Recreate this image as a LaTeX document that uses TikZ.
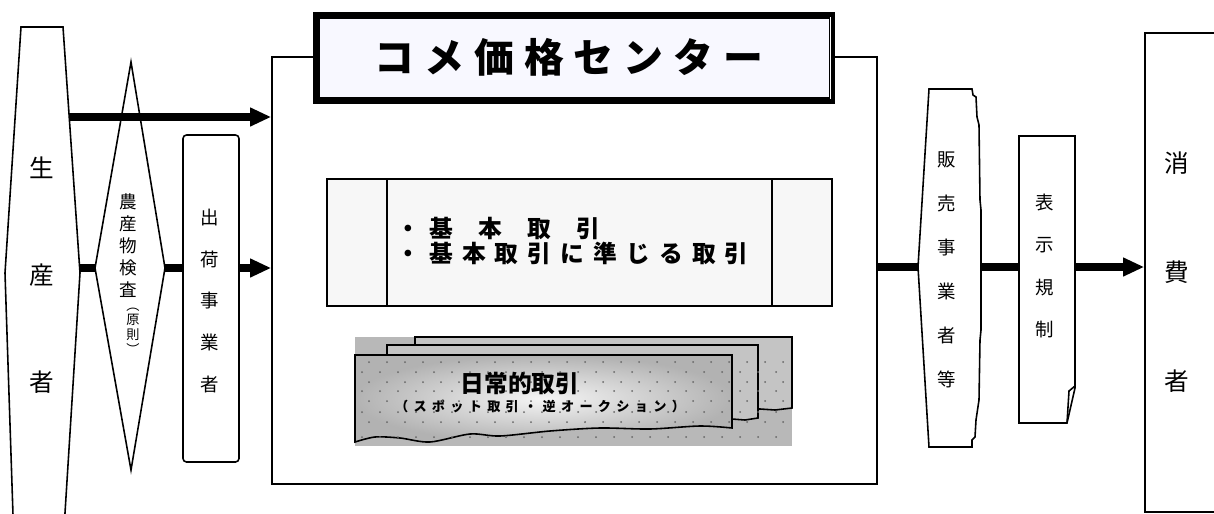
\documentclass[tikz,border=0pt]{standalone}
\usepackage{fontspec}
\newfontfamily\jp{Noto Sans CJK JP}
\usetikzlibrary{arrows.meta,fit}
\definecolor{titlefill}{RGB}{248,248,255}
\definecolor{kihonfill}{RGB}{247,247,247}
\definecolor{cardbg}{RGB}{184,184,184}
\definecolor{sheetfill}{RGB}{196,196,196}
\makeatletter
\newcommand\spaced[2]{\begingroup\let\sp@sep\relax\@tfor\sp@c:=#2\do{\sp@sep\sp@c\def\sp@sep{\hspace{#1}}}\endgroup}
\makeatother
\begin{document}
\begin{tikzpicture}[x=0.02cm,y=-0.02cm,line join=miter,
  outline/.style={draw, line width=0.9pt},
  flow/.style={line width=4pt},
  flowarrow/.style={line width=4pt, -{Triangle[length=12pt,width=10pt]}},
  vtext/.style n args={2}{font=\jp\fontsize{#1}{#2}\selectfont, align=center, inner sep=0pt}]
\useasboundingbox (0,0) rectangle (1214,514);
\clip (0,0) rectangle (1214,514);

% centre box
\node[outline, fill=white, fit={(272,57)(877,484)}, inner sep=0pt] (center) {};

% title
\node[draw, line width=3.6pt, fill=titlefill, fit={(316.5,15.5)(832,100.5)}, inner sep=0pt] (titlebox) {};
\draw[white, line width=0.6pt] (830.5,17) -- (830.5,99);
\node[font=\jp\bfseries\fontsize{22.7pt}{24pt}\selectfont, inner sep=0pt] (title) at (569,57) {\spaced{5.7pt}{コメ価格センター}};

% kihon box
\node[outline, fill=kihonfill, fit={(327,179)(832,306)}, inner sep=0pt] (kihon) {};
\draw[outline] (387,179) -- (387,306);
\draw[outline] (772,179) -- (772,306);
\node[anchor=west, align=left, font=\jp\bfseries\fontsize{13.5pt}{14.7pt}\selectfont, inner sep=0pt] (kihontext) at (396,241)
  {\spaced{5.2pt}{・基{\hspace{4pt}}本{\hspace{4pt}}取{\hspace{4pt}}引}\\\spaced{5.2pt}{・基本取引に準じる取引}};

% cards
\fill[cardbg] (355,337) rectangle (792,446);
\draw[outline, fill=sheetfill] (415,337) -- (792,337) -- (792,408) -- (775,410) -- (760,409) -- (415,412) -- cycle;
\draw[outline, fill=sheetfill] (387,345) -- (758,345) -- (758,418) -- (745,420) -- (732,419) -- (387,420) -- cycle;
\draw[outline, inner color=black!4, outer color=black!30] (355,355) -- (732,355) -- (732,428)
  -- plot[smooth] coordinates {(732,428) (700,426) (650,429) (600,428) (550,431) (500,436) (470,434) (430,442) (400,438) (375,437) (355,442)} -- cycle;
\begin{scope}
\clip (355,337) rectangle (792,446);
\foreach \yy [count=\i] in {362,372,382,391,401,412,422,437} {
  \foreach \k in {0,...,24} {
    \fill[black!60] ({362+18*\k+7*mod(\i,2)},\yy) circle (1);
  }
}
\end{scope}
\node[font=\jp\bfseries\fontsize{13.5pt}{14pt}\selectfont, inner sep=0pt] (nichijo) at (520,383) {日常的取引};
\node[font=\jp\bfseries\fontsize{7.5pt}{8pt}\selectfont, inner sep=0pt] (spot) at (540,406) {\spaced{3pt}{（スポット取引・逆オークション）}};

% producer
\draw[outline, fill=white] (21,27) -- (63,27) -- (80,273) -- (63,545) -- (14,545) -- (5,273) -- cycle;
\node[vtext={14pt}{61pt}] (prod) at (42,275) {生\\産\\者};

% inspection diamond
\coordinate (dT) at (131,62);
\coordinate (dR) at (165,268);
\coordinate (dB) at (131,470);
\coordinate (dL) at (95,268);
\draw[outline, fill=white] (dT) -- (dR) -- (dB) -- (dL) -- cycle;
\node[vtext={10pt}{12.5pt}] (kensa) at (128,246) {農\\産\\物\\検\\査};
\node[vtext={7.5pt}{8.3pt}] (gensoku) at (133,331) {︵\\原\\則\\︶};

% shipping
\node[outline, rounded corners=2pt, fit={(183,135)(239,462)}, inner sep=0pt] (ship) {};
\node[vtext={10.5pt}{23.7pt}] (shiptext) at (210,301) {出\\荷\\事\\業\\者};

% sales
\draw[outline, fill=white] (929,89) -- (972,89) -- (973,95) -- (976,97) -- (977,117) -- (979,125) -- (980,200) -- (981,210)
  -- (981,330) -- (980,340) -- (979,400) -- (976,420) -- (975,437) -- (972,440) -- (972,447) -- (929,447) -- (918,267) -- cycle;
\node[vtext={10.5pt}{25pt}] (hanbai) at (947,270) {販\\売\\事\\業\\者\\等};

% labelling rules
\draw[outline, fill=white] (1019,136) -- (1075,136) -- (1075,388) -- (1067,423) -- (1019,423) -- cycle;
\draw[outline] (1075,386) -- (1069,391) -- (1067,423);
\node[vtext={10.5pt}{24.2pt}] (hyoji) at (1045,266) {表\\示\\規\\制};

% consumer
\node[outline, fit={(1145,33)(1230,512)}, inner sep=0pt] (consbox) {};
\node[vtext={14pt}{62pt}] (consumer) at (1177,272) {消\\費\\者};

% connectors
\coordinate (prodUR) at (69.5,117);
\coordinate (prodR) at (80,268);
\coordinate (hbL) at (918,267);
\coordinate (hbR) at (981,267);
\coordinate (hyL) at (1019,267);
\coordinate (hyR) at (1075,267);
\draw[flowarrow] (prodUR) -- (prodUR -| center.west);
\draw[flow] (prodR) -- (dL);
\draw[flow] (dR) -- (dR -| ship.west);
\draw[flowarrow] (dR -| ship.east) -- (dR -| center.west);
\draw[flow] (center.east |- hbL) -- (hbL);
\draw[flow] (hbR) -- (hyL);
\draw[flowarrow] (hyR) -- (hyR -| consbox.west);
\end{tikzpicture}
\end{document}
